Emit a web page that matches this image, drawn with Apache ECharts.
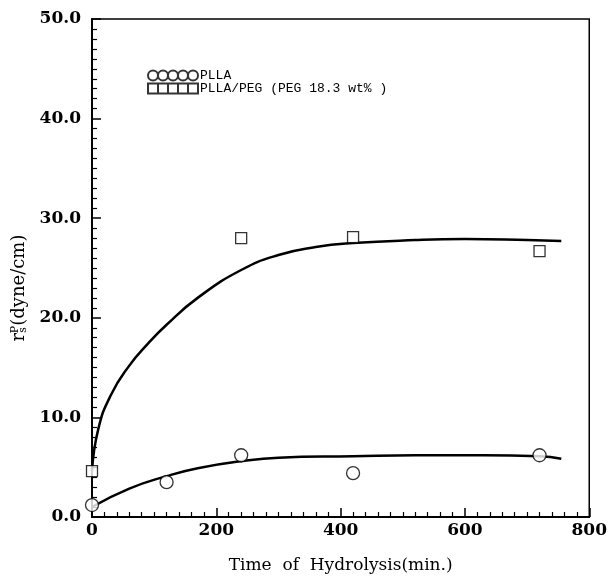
<!DOCTYPE html>
<html lang="en">
<head>
    <meta charset="UTF-8">
    <title>Surface free energy vs hydrolysis time</title>
</head>
<body style="margin:0">
<div id='main' style="height: 582px;width: 610px"></div>
</body>
<script src="https://cdn.jsdelivr.net/npm/echarts@6.0.0/dist/echarts.min.js"></script>
<script>
    // measured points
    var pllaTimes = [0, 120, 240, 420, 720];
    var pllaValues = [1.2, 3.5, 6.2, 4.4, 6.2];
    var pegTimes = [0, 240, 420, 720];
    var pegValues = [4.6, 28.0, 28.1, 26.7];

    // fitted curves
    var pegFitTimes = [0, 10, 30, 60, 90, 120, 170, 240, 300, 360, 420, 520, 600, 700, 755];
    var pegFitValues = [4.6, 8.8, 12.2, 15.2, 17.4, 19.3, 22.0, 24.8, 26.3, 27.1, 27.5, 27.8, 27.9, 27.8, 27.7];
    var pllaFitTimes = [0, 60, 120, 170, 240, 300, 420, 520, 630, 720, 755];
    var pllaFitValues = [1.0, 2.85, 4.1, 4.9, 5.6, 5.95, 6.1, 6.2, 6.2, 6.1, 5.85];

    var xTicks = [0, 200, 400, 600, 800];
    var yTicks = [0, 10, 20, 30, 40, 50];

    function pairs(xs, ys) {
        return xs.map(function (x, i) { return [x, ys[i]]; });
    }

    var circles5 = 'path://M0,5a5,5 0 1,0 10,0a5,5 0 1,0 -10,0z' +
        'M10,5a5,5 0 1,0 10,0a5,5 0 1,0 -10,0z' +
        'M20,5a5,5 0 1,0 10,0a5,5 0 1,0 -10,0z' +
        'M30,5a5,5 0 1,0 10,0a5,5 0 1,0 -10,0z' +
        'M40,5a5,5 0 1,0 10,0a5,5 0 1,0 -10,0z';
    var squares5 = 'path://M0,0h10v10h-10z M10,0h10v10h-10z M20,0h10v10h-10z M30,0h10v10h-10z M40,0h10v10h-10z';

    var myChart = echarts.init(document.getElementById('main'));

    var serif = '"DejaVu Serif", "Liberation Serif", serif';

    var option = {
        animation: false,
        backgroundColor: '#fff',
        grid: {
            left: 92, right: 18, top: 19, bottom: 65,
            show: true, borderColor: '#000', borderWidth: 1.5
        },
        legend: {
            left: 142, top: 64,
            orient: 'vertical',
            itemWidth: 50, itemHeight: 10, itemGap: 0,
            textStyle: { fontFamily: '"Liberation Mono", monospace', fontSize: 13, lineHeight: 11, color: '#000', padding: [0, 0, 0, -3] }
        },
        xAxis: {
            type: 'value',
            min: xTicks[0], max: xTicks[xTicks.length - 1], interval: 200,
            name: 'Time  of  Hydrolysis(min.)',
            nameLocation: 'middle', nameGap: 40,
            nameTextStyle: { fontFamily: serif, fontSize: 17, color: '#000' },
            axisLine: { lineStyle: { color: '#000', width: 2 } },
            axisTick: { inside: true, length: 9, lineStyle: { color: '#000', width: 1.5 } },
            minorTick: { show: true, splitNumber: 10, length: 5, lineStyle: { color: '#000', width: 1.2 } },
            splitLine: { show: false },
            axisLabel: { fontFamily: serif, fontWeight: 'bold', fontSize: 17, color: '#000', margin: 5 }
        },
        yAxis: {
            type: 'value',
            min: yTicks[0], max: yTicks[yTicks.length - 1], interval: 10,
            name: '{r|r}{s|s}{p|P}{r|(dyne/cm)}',
            nameLocation: 'middle', nameGap: 62,
            nameTextStyle: {
                padding: [0, 40, 0, 0],
                rich: {
                    r: { fontFamily: serif, fontSize: 18, color: '#000' },
                    s: { fontFamily: serif, fontSize: 11, color: '#000', verticalAlign: 'bottom', padding: [8, 0, 0, 0] },
                    p: { fontFamily: serif, fontSize: 11, color: '#000', verticalAlign: 'top', padding: [0, 0, 8, -6] }
                }
            },
            axisLine: { lineStyle: { color: '#000', width: 2 } },
            axisTick: { inside: true, length: 9, lineStyle: { color: '#000', width: 1.5 } },
            minorTick: { show: true, splitNumber: 10, length: 5, lineStyle: { color: '#000', width: 1.2 } },
            splitLine: { show: false },
            axisLabel: {
                fontFamily: serif, fontWeight: 'bold', fontSize: 17, color: '#000', margin: 11,
                formatter: function (v) { return v.toFixed(1); }
            }
        },
        series: [
            {
                name: 'PLLA fit', type: 'line', data: pairs(pllaFitTimes, pllaFitValues),
                smooth: 0.5, showSymbol: false,
                lineStyle: { color: '#000', width: 2.5 }, z: 2
            },
            {
                name: 'PLLA/PEG fit', type: 'line', data: pairs(pegFitTimes, pegFitValues),
                smooth: 0.5, showSymbol: false,
                lineStyle: { color: '#000', width: 2.5 }, z: 2
            },
            {
                name: 'PLLA', type: 'scatter', data: pairs(pllaTimes, pllaValues),
                symbol: 'circle', symbolSize: 13,
                itemStyle: { color: '#fff', borderColor: '#000', borderWidth: 1.3 }, z: 3
            },
            {
                name: 'PLLA/PEG (PEG 18.3 wt% )', type: 'scatter', data: pairs(pegTimes, pegValues),
                symbol: 'rect', symbolSize: 11,
                itemStyle: { color: '#fff', borderColor: '#000', borderWidth: 1.3 }, z: 3
            }
        ]
    };
    option.legend.data = [
        { name: 'PLLA', icon: circles5 },
        { name: 'PLLA/PEG (PEG 18.3 wt% )', icon: squares5 }
    ];
    myChart.setOption(option);
</script>
</html>
